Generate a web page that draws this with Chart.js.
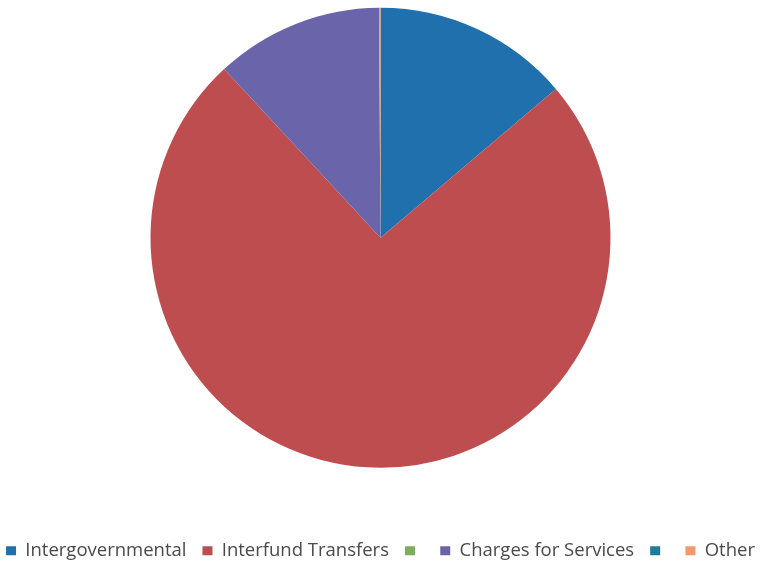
<!DOCTYPE html>
<html>
<head>
<meta charset="utf-8">
<script src="https://cdn.jsdelivr.net/npm/chart.js@4/dist/chart.umd.min.js"></script>
<style>
  html, body { margin: 0; padding: 0; background: #fff; overflow: hidden; }
  #wrap { width: 761px; height: 615px; position: relative; top: -50px; }
</style>
</head>
<body>
<div id="wrap"><canvas id="revenue-chart"></canvas></div>
<script>
// Revenue sources (percent of total)
const categories = ["Intergovernmental", "Interfund Transfers", "", "Charges for Services", "", "Other"];
const shares = [13.8, 74.3, 0, 11.8, 0, 0.1];
const sliceColors = ["#1f70ac", "#be4d50", "#7fad5b", "#6a64aa", "#1d7d96", "#f29a6c"];

const ctx = document.getElementById("revenue-chart").getContext("2d");
new Chart(ctx, {
  type: "pie",
  data: {
    labels: categories,
    datasets: [{
      data: shares,
      backgroundColor: sliceColors,
      borderWidth: 0,
      radius: 230,
    }]
  },
  options: {
    responsive: true,
    maintainAspectRatio: false,
    animation: false,
    layout: { padding: { top: 0, bottom: -5, left: -20, right: -20 } },
    plugins: {
      tooltip: { enabled: false },
      legend: {
        position: "bottom",
        labels: {
          boxWidth: 10,
          boxHeight: 9,
          padding: 16,
          color: "#4a4a4a",
          font: { family: "'Open Sans'", size: 18.5 },
        },
      },
    },
  },
});
</script>
</body>
</html>
